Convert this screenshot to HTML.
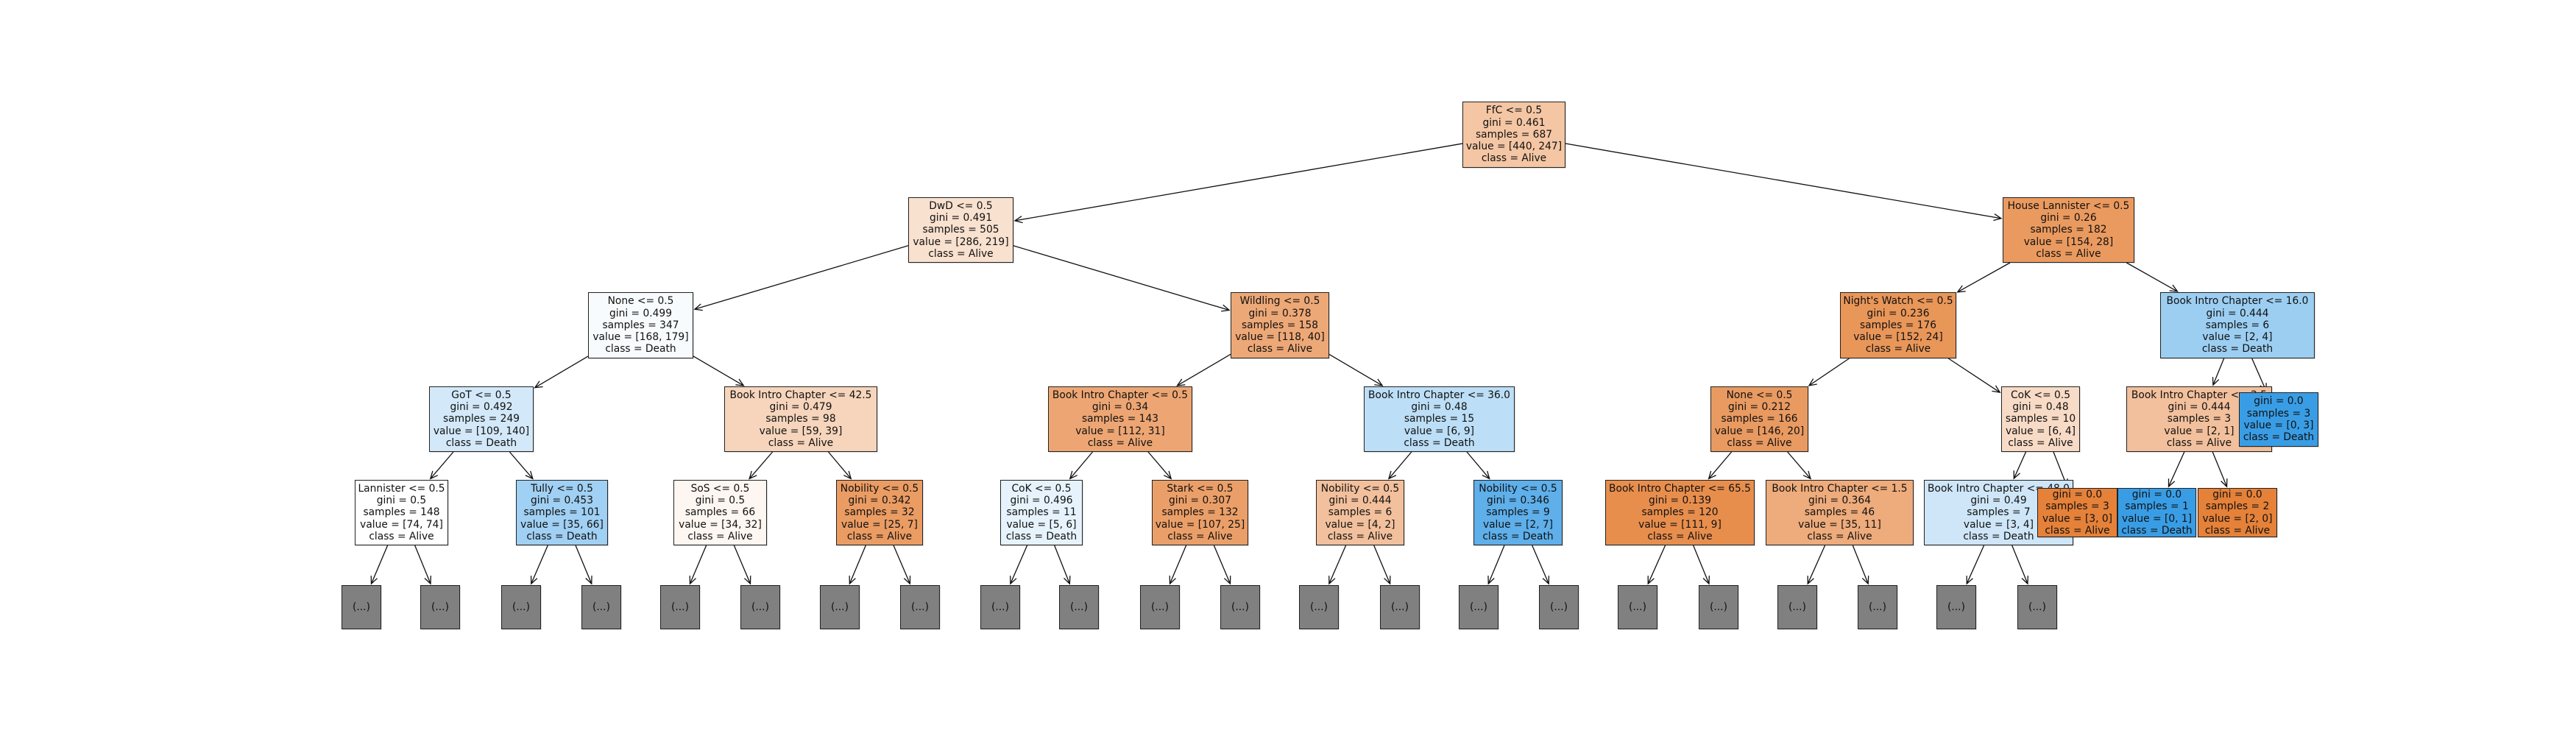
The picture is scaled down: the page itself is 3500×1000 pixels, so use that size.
<!DOCTYPE html>
<html><head><meta charset="utf-8">
<style>
html,body{margin:0;padding:0;background:#fff;}
#c{position:relative;width:3500px;height:1000px;overflow:hidden;background:#fff;}
.n{position:absolute;box-sizing:border-box;border:1.3px solid #222;display:flex;align-items:center;justify-content:center;text-align:center;
font-family:"DejaVu Sans","Liberation Sans",sans-serif;font-size:13.8px;line-height:16.3px;color:#111;white-space:pre;overflow:visible;box-shadow:1px 1px 1px rgba(0,0,0,0.15);}
svg{position:absolute;left:0;top:0;}
</style></head><body>
<div id="c"><svg id="s" width="3500" height="1000"></svg></div>
<script>
const L=[[138,228],[268,357],[397,487],[525,614],[652,741]];
const G=[795,855];
function t(a,g,s,v,c){return (a?a+"\n":"")+"gini = "+g+"\nsamples = "+s+"\nvalue = "+v+"\nclass = "+c;}
const N={
root:[1987,2127,0,"#f4c6a4",t("FfC <= 0.5","0.461",687,"[440, 247]","Alive")],
dwd:[1234,1377,1,"#f9e1cf",t("DwD <= 0.5","0.491",505,"[286, 219]","Alive")],
hl:[2721,2900,1,"#ea9a5f",t("House Lannister <= 0.5","0.26",182,"[154, 28]","Alive")],
none:[799,942,2,"#f8fbfe",t("None <= 0.5","0.499",347,"[168, 179]","Death")],
wild:[1672,1806,2,"#eda877",t("Wildling <= 0.5","0.378",158,"[118, 40]","Alive")],
nw:[2500,2658,2,"#e99659",t("Night's Watch <= 0.5","0.236",176,"[152, 24]","Alive")],
b16:[2935,3145,2,"#9ccef2",t("Book Intro Chapter <= 16.0","0.444",6,"[2, 4]","Death")],
got:[583,725,3,"#d3e9f9",t("GoT <= 0.5","0.492",249,"[109, 140]","Death")],
b425:[984,1192,3,"#f6d5bc",t("Book Intro Chapter <= 42.5","0.479",98,"[59, 39]","Alive")],
b05:[1424,1620,3,"#eda673",t("Book Intro Chapter <= 0.5","0.34",143,"[112, 31]","Alive")],
b36:[1853,2058,3,"#bcdef6",t("Book Intro Chapter <= 36.0","0.48",15,"[6, 9]","Death")],
n05:[2324,2457,3,"#e99a61",t("None <= 0.5","0.212",166,"[146, 20]","Alive")],
cok:[2719,2826,3,"#f8dbc6",t("CoK <= 0.5","0.48",10,"[6, 4]","Alive")],
bx:[2889,3087,3,"#f2c09c",t("Book Intro Chapter <= 2.5","0.444",3,"[2, 1]","Alive")],
lan:[482,609,4,"#ffffff",t("Lannister <= 0.5","0.5",148,"[74, 74]","Alive")],
tul:[701,826,4,"#a0d0f3",t("Tully <= 0.5","0.453",101,"[35, 66]","Death")],
sos:[915,1042,4,"#fdf6f1",t("SoS <= 0.5","0.5",66,"[34, 32]","Alive")],
nb1:[1136,1254,4,"#eb9c63",t("Nobility <= 0.5","0.342",32,"[25, 7]","Alive")],
ck2:[1359,1471,4,"#e6f3fc",t("CoK <= 0.5","0.496",11,"[5, 6]","Death")],
stk:[1565,1696,4,"#eb9f68",t("Stark <= 0.5","0.307",132,"[107, 25]","Alive")],
nb2:[1788,1908,4,"#f2c09c",t("Nobility <= 0.5","0.444",6,"[4, 2]","Alive")],
nb3:[2002,2123,4,"#5eafea",t("Nobility <= 0.5","0.346",9,"[2, 7]","Death")],
b65:[2181,2384,4,"#e88e4d",t("Book Intro Chapter <= 65.5","0.139",120,"[111, 9]","Alive")],
b15:[2399,2600,4,"#eeab7b",t("Book Intro Chapter <= 1.5","0.364",46,"[35, 11]","Alive")],
b48:[2614,2817,4,"#cee6f8",t("Book Intro Chapter <= 48.0","0.49",7,"[3, 4]","Death")],
ga:[2768,2877,-1,"#e58139",t("","0.0",3,"[3, 0]","Alive"),663,730],
gd:[3042,3150,-1,"#399de5",t("","0.0",3,"[0, 3]","Death"),533,607],
g1:[2877,2984,-1,"#399de5",t("","0.0",1,"[0, 1]","Death"),663,730],
g2:[2986,3094,-1,"#e58139",t("","0.0",2,"[2, 0]","Alive"),663,730]
};
const gc=[491,598,708,817,924,1033,1141,1250,1359,1466,1576,1685,1792,1902,2009,2118,2225,2335,2442,2551,2658,2768];
const leafPar=["lan","lan","tul","tul","sos","sos","nb1","nb1","ck2","ck2","stk","stk","nb2","nb2","nb3","nb3","b65","b65","b15","b15","b48","b48"];
gc.forEach((x,i)=>{N["g"+i+"x"]=[x-27,x+27,-1,"#808080","(...)",G[0],G[1]];});
const E=[["root","dwd"],["root","hl"],["dwd","none"],["dwd","wild"],["none","got"],["none","b425"],["got","lan"],["got","tul"],["b425","sos"],["b425","nb1"],["wild","b05"],["wild","b36"],["b05","ck2"],["b05","stk"],["b36","nb2"],["b36","nb3"],["hl","nw"],["hl","b16"],["nw","n05"],["nw","cok"],["n05","b65"],["n05","b15"],["cok","b48"],["cok","ga"],["b16","bx"],["b16","gd"],["bx","g1"],["bx","g2"]];
leafPar.forEach((p,i)=>E.push([p,"g"+i+"x"]));
function box(k){const n=N[k];let y1,y2;if(n[2]>=0){y1=L[n[2]][0];y2=L[n[2]][1];}else{y1=n[5];y2=n[6];}return {x1:n[0],x2:n[1],y1:y1,y2:y2,cx:(n[0]+n[1])/2,cy:(y1+y2)/2};}
function clip(b,dx,dy){let s=1e9;if(dx)s=Math.min(s,((b.x2-b.x1)/2)/Math.abs(dx));if(dy)s=Math.min(s,((b.y2-b.y1)/2)/Math.abs(dy));return s;}
const svg=document.getElementById("s");let h="";
E.forEach(([p,c])=>{const a=box(p),b=box(c);const dx=b.cx-a.cx,dy=b.cy-a.cy;const len=Math.hypot(dx,dy);
const s1=clip(a,dx,dy),s2=clip(b,dx,dy);
const x1=a.cx+dx*s1,y1=a.cy+dy*s1;const x2=b.cx-dx*s2-dx/len*2,y2=b.cy-dy*s2-dy/len*2;
const ux=dx/len,uy=dy/len;const al=10,aw=4.5;
const bx=x2-ux*al,by=y2-uy*al;
h+=`<line x1="${x1}" y1="${y1}" x2="${x2}" y2="${y2}" stroke="#111" stroke-width="1.3"/>`;
h+=`<polyline points="${bx-uy*aw},${by+ux*aw} ${x2},${y2} ${bx+uy*aw},${by-ux*aw}" fill="none" stroke="#111" stroke-width="1.3"/>`;});
svg.innerHTML=h;
const c=document.getElementById("c");
const order=["root","dwd","none","got","lan","g0x","g1x","tul","g2x","g3x","b425","sos","g4x","g5x","nb1","g6x","g7x","wild","b05","ck2","g8x","g9x","stk","g10x","g11x","b36","nb2","g12x","g13x","nb3","g14x","g15x","hl","nw","n05","b65","g16x","g17x","b15","g18x","g19x","cok","b48","g20x","g21x","ga","b16","bx","g1","g2","gd"];
order.forEach(k=>{const n=N[k],b=box(k);const d=document.createElement("div");d.className="n";
d.style.left=b.x1+"px";d.style.top=b.y1+"px";d.style.width=(b.x2-b.x1)+"px";d.style.height=(b.y2-b.y1)+"px";d.style.background=n[3];d.textContent=n[4];c.appendChild(d);});
</script>
</body></html>
